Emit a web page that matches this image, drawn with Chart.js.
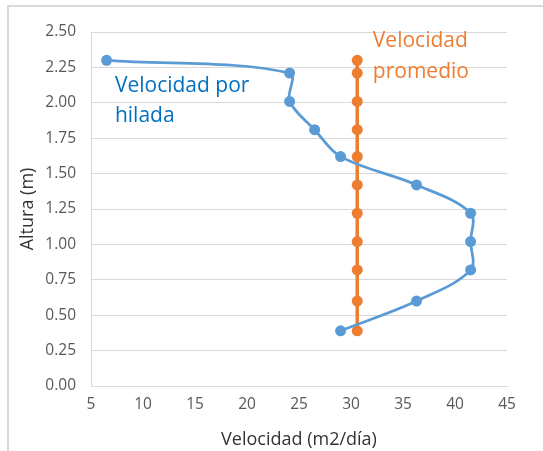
<!DOCTYPE html>
<html>
<head>
<meta charset="utf-8">
<script src="https://cdn.jsdelivr.net/npm/chart.js@4/dist/chart.umd.min.js"></script>
<style>
  html, body { margin: 0; padding: 0; background: #fff; }
  #wrap { width: 543px; height: 451px; position: relative; }
</style>
</head>
<body>
<div id="wrap"><canvas id="chart"></canvas></div>
<script>
// alturas de cada hilada (m)
const alturas = [0.39, 0.60, 0.82, 1.02, 1.22, 1.42, 1.62, 1.81, 2.01, 2.21, 2.30];
// velocidad medida por hilada (m2/dia)
const velHilada = [29.0, 36.3, 41.5, 41.5, 41.5, 36.3, 29.0, 26.5, 24.1, 24.1, 6.5];
// velocidad promedio
const velPromedio = [30.6, 30.6, 30.6, 30.6, 30.6, 30.6, 30.6, 30.6, 30.6, 30.6, 30.6];

const xTicks = [5, 10, 15, 20, 25, 30, 35, 40, 45];
const yTicks = [0, 0.25, 0.5, 0.75, 1, 1.25, 1.5, 1.75, 2, 2.25, 2.5];

const azul = '#5B9BD5';
const naranja = '#ED7D31';

function toPoints(xs, ys) {
  return xs.map(function(v, i){ return { x: v, y: ys[i] }; });
}

// etiquetas de serie dentro del grafico
const etiquetas = {
  id: 'etiquetas',
  afterDatasetsDraw: function(chart) {
    const c = chart.ctx;
    const sx = chart.scales.x, sy = chart.scales.y;
    c.save();
    c.font = '21px "Open Sans"';
    c.textBaseline = 'alphabetic';
    c.textAlign = 'left';
    c.fillStyle = '#0070C0';
    c.fillText('Velocidad por', sx.getPixelForValue(7.3), sy.getPixelForValue(2.076));
    c.fillText('hilada', sx.getPixelForValue(7.3), sy.getPixelForValue(1.864));
    c.fillStyle = naranja;
    c.fillText('Velocidad', sx.getPixelForValue(32.1), sy.getPixelForValue(2.394));
    c.fillText('promedio', sx.getPixelForValue(32.1), sy.getPixelForValue(2.175));
    c.restore();
  }
};

// marco exterior del grafico
const marco = {
  id: 'marco',
  beforeDraw: function(chart) {
    const c = chart.ctx;
    c.save();
    c.fillStyle = '#fff';
    c.fillRect(0, 0, chart.width, chart.height);
    c.strokeStyle = '#d9d9d9';
    c.lineWidth = 2;
    c.beginPath();
    c.moveTo(8, chart.height);
    c.lineTo(8, 6);
    c.lineTo(chart.width, 6);
    c.stroke();
    c.restore();
  }
};

const chart = new Chart(document.getElementById('chart'), {
  type: 'scatter',
  data: {
    datasets: [
      {
        label: 'Velocidad por hilada',
        data: toPoints(velHilada, alturas),
        showLine: true,
        borderColor: azul,
        backgroundColor: azul,
        borderWidth: 2.75,
        pointRadius: 5.5,
        pointHoverRadius: 5.5,
        pointBorderWidth: 0,
        tension: 0.35
      },
      {
        label: 'Velocidad promedio',
        data: toPoints(velPromedio, alturas),
        showLine: true,
        borderColor: naranja,
        backgroundColor: naranja,
        borderWidth: 3.5,
        pointRadius: 5.5,
        pointHoverRadius: 5.5,
        pointBorderWidth: 0,
        tension: 0
      }
    ]
  },
  options: {
    responsive: true,
    maintainAspectRatio: false,
    animation: false,
    layout: { padding: { top: 32, right: 36, left: 0, bottom: 0 } },
    plugins: {
      legend: { display: false },
      tooltip: { enabled: false }
    },
    scales: {
      x: {
        type: 'linear',
        min: 5,
        max: 45,
        afterBuildTicks: function(s){ s.ticks = xTicks.map(function(v){ return { value: v }; }); },
        afterFit: function(s){ s.height = 65; },
        grid: { display: false, drawTicks: false },
        border: { display: true, color: '#d9d9d9', width: 1 },
        ticks: {
          padding: 9,
          color: '#595959',
          font: { family: 'Open Sans', size: 15.5 },
          callback: function(v){ return v; }
        },
        title: {
          display: true,
          text: 'Velocidad (m2/día)',
          color: '#333',
          font: { family: 'Open Sans', size: 18 },
          padding: { top: 1, bottom: 0 }
        }
      },
      y: {
        type: 'linear',
        min: 0,
        max: 2.5,
        afterBuildTicks: function(s){ s.ticks = yTicks.map(function(v){ return { value: v }; }); },
        afterFit: function(s){ s.width = 91; },
        grid: { color: '#d9d9d9', lineWidth: 1, drawTicks: false },
        border: { display: true, color: '#d9d9d9', width: 1 },
        ticks: {
          padding: 15,
          color: '#595959',
          font: { family: 'Open Sans', size: 15.5 },
          callback: function(v){ return Number(v).toFixed(2); }
        },
        title: {
          display: true,
          text: 'Altura (m)',
          color: '#333',
          font: { family: 'Open Sans', size: 18 },
          padding: { top: 17, bottom: 0 }
        }
      }
    }
  },
  plugins: [marco, etiquetas]
});
</script>
</body>
</html>
